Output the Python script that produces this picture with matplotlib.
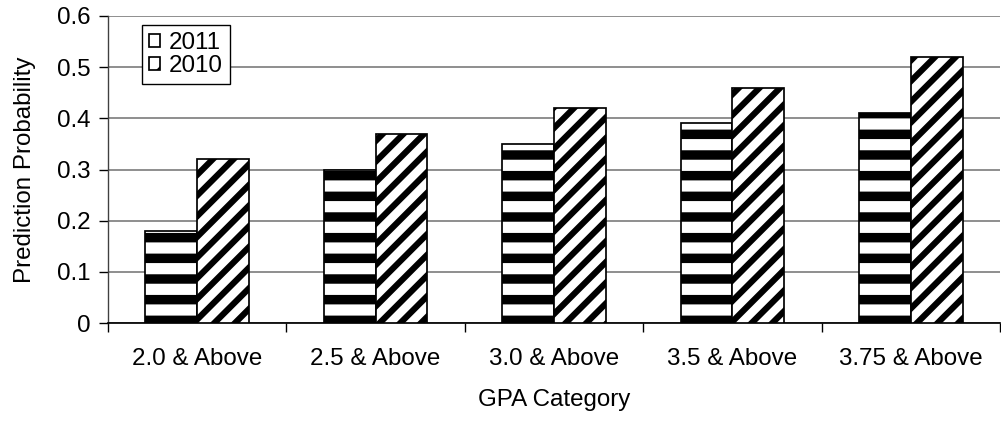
import numpy as np
import matplotlib
matplotlib.use("Agg")
import matplotlib.pyplot as plt

categories = ["2.0 & Above", "2.5 & Above", "3.0 & Above", "3.5 & Above", "3.75 & Above"]
vals_2011 = [0.18, 0.30, 0.35, 0.39, 0.41]
vals_2010 = [0.32, 0.37, 0.42, 0.46, 0.52]

plt.rcParams["font.family"] = ["Liberation Sans", "DejaVu Sans"]
plt.rcParams["hatch.color"] = "black"

DPI = 124
FS = 14
fig = plt.figure(figsize=(1002 / DPI, 421 / DPI), dpi=DPI)
ax = fig.add_axes([108 / 1002, 1 - 323 / 421, 892 / 1002, 307 / 421])

x = np.arange(len(categories))
w = 0.29


def hatched_bars(xs, vals, hatch, hlw, label):
    with plt.rc_context({"hatch.linewidth": hlw}):
        bars = ax.bar(xs, vals, w, facecolor="white", edgecolor="black",
                      hatch=hatch, linewidth=1.0, label=label, zorder=3)
    for p in bars:
        if hasattr(p, "set_hatch_linewidth"):
            p.set_hatch_linewidth(hlw)
    return bars


hatched_bars(x - w / 2, vals_2011, "-", 5.5, "2011")
hatched_bars(x + w / 2, vals_2010, "//", 3.6, "2010")

ax.set_xlim(-0.5, len(categories) - 0.5)
ax.set_ylim(0, 0.6)
ax.set_yticks(np.arange(0, 0.61, 0.1))
ax.set_yticklabels(["0", "0.1", "0.2", "0.3", "0.4", "0.5", "0.6"])
ax.yaxis.grid(True, color="#808080", linewidth=1.0, zorder=0)
ax.set_axisbelow(True)

ax.set_xticks(x)
ax.set_xticklabels(categories)
ax.set_xticks(np.arange(-0.5, len(categories)), minor=True)
ax.tick_params(axis="x", which="major", length=0, pad=14.5, labelsize=FS)
ax.tick_params(axis="x", which="minor", length=5, width=0.8, direction="out")
ax.tick_params(axis="y", length=5, width=0.8, direction="out", labelsize=FS, pad=5)

for side in ("top", "right"):
    ax.spines[side].set_visible(False)
ax.spines["left"].set_color("#404040")
ax.spines["bottom"].set_linewidth(1.0)

ax.set_xlabel("GPA Category", fontsize=FS, labelpad=11)
ax.set_ylabel("Prediction Probability", fontsize=FS, labelpad=12)

leg = ax.legend(loc="upper left", bbox_to_anchor=(0.038, 0.97), fancybox=False,
                edgecolor="black", framealpha=1, fontsize=FS,
                handlelength=0.45, handleheight=0.45, handletextpad=0.35,
                labelspacing=0.03, borderpad=0.3, borderaxespad=0)
leg.get_frame().set_linewidth(0.8)

fig.savefig("out.png", dpi=DPI)
